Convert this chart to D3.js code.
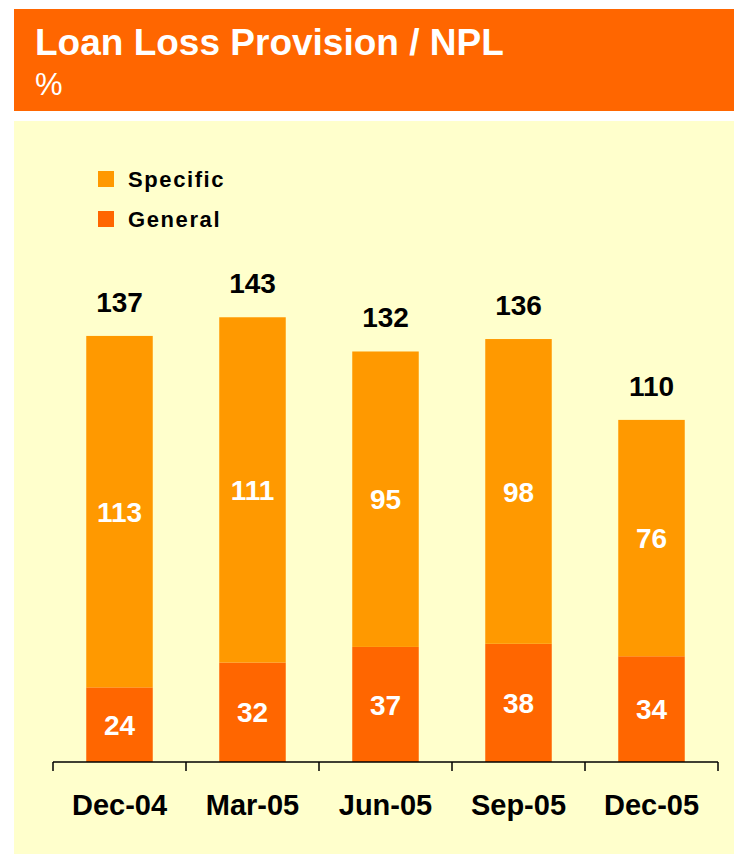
<!DOCTYPE html>
<html>
<head>
<meta charset="utf-8">
<script src="https://cdn.jsdelivr.net/npm/d3@7"></script>
<style>
  html, body { margin: 0; padding: 0; background: #ffffff; }
  svg { display: block; font-family: "Liberation Sans", Arial, Helvetica, sans-serif; }
</style>
</head>
<body>
<svg id="chart" width="734" height="855"></svg>
<script>
// Quarter-end periods
const categories = ["Dec-04", "Mar-05", "Jun-05", "Sep-05", "Dec-05"];
// Provision coverage components, % of NPL
const general = [24, 32, 37, 38, 34];
const specific = [113, 111, 95, 98, 76];
// Totals printed above each bar
const totals = [137, 143, 132, 136, 110];
const seriesNames = ["Specific", "General"];

const colors = { header: "#FF6600", panel: "#FFFFCC", specific: "#FF9900", general: "#FF6600" };

const svg = d3.select("#chart");

// Title banner
svg.append("rect").attr("x", 14).attr("y", 9).attr("width", 720).attr("height", 102)
  .attr("fill", colors.header);
svg.append("text").attr("x", 35).attr("y", 55)
  .attr("fill", "#fff").attr("font-weight", "bold").attr("font-size", 37)
  .text("Loan Loss Provision / NPL");
svg.append("text").attr("x", 35).attr("y", 95)
  .attr("fill", "#fff").attr("font-size", 31)
  .text("%");

// Chart panel
svg.append("rect").attr("x", 14).attr("y", 121).attr("width", 720).attr("height", 733)
  .attr("fill", colors.panel);

// Scales
const x = d3.scaleBand().domain(categories).range([53, 718])
  .paddingInner(0.5).paddingOuter(0.25);
const y = d3.scaleLinear().domain([0, 150]).range([762, 295.5]);

const rows = categories.map((c, i) => ({ cat: c, general: general[i], specific: specific[i], total: totals[i] }));
const stack = d3.stack().keys(["general", "specific"])(rows);

const layers = svg.append("g").selectAll("g").data(stack).join("g")
  .attr("fill", d => colors[d.key]);
layers.selectAll("rect").data(d => d).join("rect")
  .attr("x", d => x(d.data.cat))
  .attr("width", x.bandwidth())
  .attr("y", d => y(d[1]))
  .attr("height", d => y(d[0]) - y(d[1]));

// Segment values, centred in each segment
layers.selectAll("text").data(d => d).join("text")
  .attr("x", d => x(d.data.cat) + x.bandwidth() / 2)
  .attr("y", d => (y(d[0]) + y(d[1])) / 2)
  .attr("dy", "0.36em")
  .attr("text-anchor", "middle")
  .attr("fill", "#fff").attr("font-weight", "bold").attr("font-size", 28)
  .text(d => d[1] - d[0]);

// Totals above bars
svg.append("g").selectAll("text").data(rows).join("text")
  .attr("x", d => x(d.cat) + x.bandwidth() / 2)
  .attr("y", d => y(d.total) - 24)
  .attr("text-anchor", "middle")
  .attr("fill", "#000").attr("font-weight", "bold").attr("font-size", 28)
  .text(d => d.total);

// Category axis with ticks between bands
const axis = svg.append("g").attr("stroke", "#000").attr("stroke-width", 1.5);
const [r0, r1] = x.range();
axis.append("line").attr("x1", r0).attr("x2", r1).attr("y1", y(0)).attr("y2", y(0));
const gap = (x.step() - x.bandwidth()) / 2;
const tickPos = categories.map(c => x(c) - gap).concat([r1]);
axis.selectAll("line.tick").data(tickPos).join("line").attr("class", "tick")
  .attr("x1", d => d).attr("x2", d => d).attr("y1", y(0)).attr("y2", y(0) + 9);

svg.append("g").selectAll("text").data(categories).join("text")
  .attr("x", d => x(d) + x.bandwidth() / 2)
  .attr("y", 815)
  .attr("text-anchor", "middle")
  .attr("fill", "#000").attr("font-weight", "bold").attr("font-size", 29)
  .text(d => d);

// Legend
const legend = svg.append("g").selectAll("g").data(seriesNames).join("g")
  .attr("transform", (d, i) => `translate(98, ${171 + i * 40})`);
legend.append("rect").attr("width", 16).attr("height", 16)
  .attr("fill", d => d === "Specific" ? colors.specific : colors.general);
legend.append("text").attr("x", 30).attr("y", 15.5)
  .attr("fill", "#000").attr("font-weight", "bold").attr("font-size", 22)
  .attr("letter-spacing", 1.6)
  .text(d => d);
</script>
</body>
</html>
